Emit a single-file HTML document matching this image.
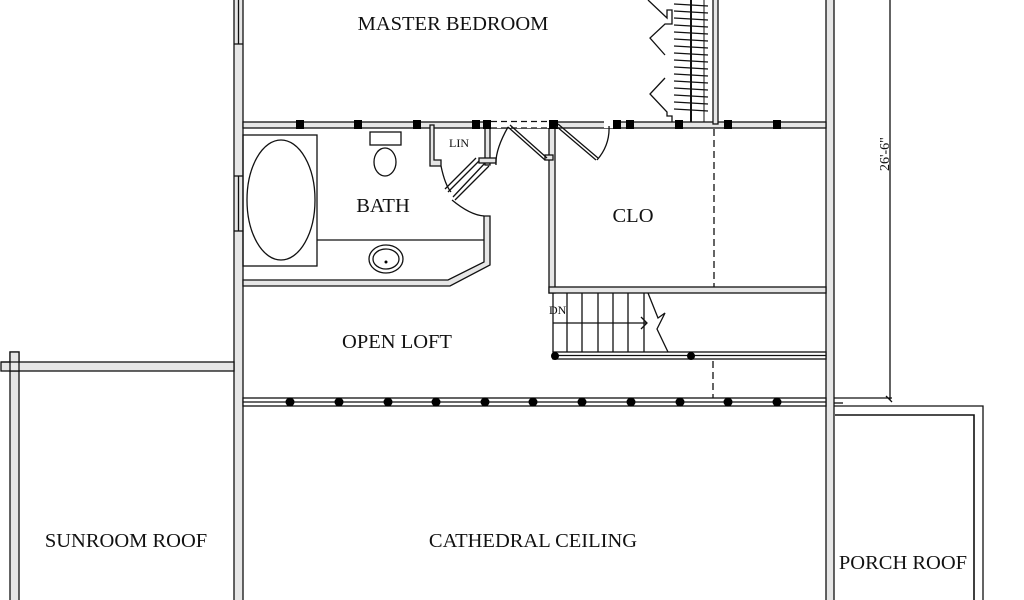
<!DOCTYPE html>
<html><head><meta charset="utf-8"><style>
html,body{margin:0;padding:0;background:#fff;}
svg{display:block;}
text{font-family:"Liberation Serif",serif;fill:#111;}
</style></head><body>
<svg width="1024" height="600" viewBox="0 0 1024 600" xmlns="http://www.w3.org/2000/svg">
<g fill="#e6e6e6" stroke="#111" stroke-width="1.3">
<rect x="234" y="-2" width="9" height="604"/>
<rect x="826" y="-2" width="8" height="604"/>
<rect x="243" y="122" width="583" height="6"/>
<rect x="10" y="352" width="9" height="250"/>
<rect x="1" y="362" width="233" height="9"/>
<rect x="10" y="352" width="9" height="19"/>
<path d="M243 280 L448 280 L484 262 L484 216 L490 216 L490 265 L450 286 L243 286 Z"/>
<path d="M430 125 L434 125 L434 160 L441 160 L441 166 L430 166 Z"/>
<rect x="485" y="125" width="5" height="40"/>
<rect x="479" y="158" width="17" height="5"/>
<rect x="549" y="125" width="6" height="168"/>
<rect x="545" y="155" width="8" height="5"/>
<rect x="549" y="287" width="277" height="6"/>
<rect x="713" y="-2" width="5" height="126"/>
</g>
<g stroke="#111" stroke-width="1.3">
<line x1="238.5" y1="0" x2="238.5" y2="44"/>
<line x1="238.5" y1="176" x2="238.5" y2="231"/>
<line x1="234" y1="44" x2="243" y2="44"/>
<line x1="234" y1="176" x2="243" y2="176"/>
<line x1="234" y1="231" x2="243" y2="231"/>
<line x1="1" y1="362" x2="19" y2="362"/>
</g>
<g fill="#000">
<rect x="296" y="120" width="8" height="9"/>
<rect x="354" y="120" width="8" height="9"/>
<rect x="413" y="120" width="8" height="9"/>
<rect x="472" y="120" width="8" height="9"/>
<rect x="483" y="120" width="8" height="9"/>
<rect x="549" y="120" width="9" height="9"/>
<rect x="613" y="120" width="8" height="9"/>
<rect x="626" y="120" width="8" height="9"/>
<rect x="675" y="120" width="8" height="9"/>
<rect x="724" y="120" width="8" height="9"/>
<rect x="773" y="120" width="8" height="9"/>
</g>
<g stroke="#111" stroke-width="1.3" fill="none">
<rect x="491" y="121" width="58" height="7" fill="#fff" stroke="none"/>
<line x1="491" y1="121.5" x2="549" y2="121.5" stroke-dasharray="6,4"/>
<line x1="491" y1="128" x2="549" y2="128" stroke-dasharray="6,4"/>
<rect x="604" y="121" width="9" height="7" fill="#fff" stroke="none"/>
<path d="M508 127 L545 160 M510 125 L547 158"/>
<path d="M508 127 Q495 150 496 165"/>
<path d="M556 126 L596 160 M558 124 L598 158"/>
<path d="M597 160 Q610 145 609 126"/>
<path d="M485 163 L453 197 M489 166 L455 200"/>
<path d="M452 200 Q470 215 484 216"/>
<path d="M479 161 L448 192 M476 158 L445 189"/>
<path d="M441 166 Q445 185 451 192"/>
<rect x="243" y="135" width="74" height="131"/>
<ellipse cx="281" cy="200" rx="34" ry="60"/>
<line x1="317" y1="240" x2="484" y2="240"/>
<rect x="370" y="132" width="31" height="13"/>
<ellipse cx="385" cy="162" rx="11" ry="14"/>
<ellipse cx="386" cy="259" rx="17" ry="14"/>
<ellipse cx="386" cy="259" rx="13" ry="10"/>
<path d="M648 0 L667 18 L667 10 L672 10 L672 24 L665 24 L650 38 L665 55"/>
<path d="M665 78 L650 94 L667 112 L667 116 L672 116 L672 122"/>
<line x1="691" y1="0" x2="691" y2="122" stroke-width="2"/>
<line x1="704" y1="0" x2="704" y2="122" stroke-width="1"/>
</g>
<g stroke="#111" stroke-width="1.2">
<line x1="674" y1="4" x2="708" y2="6"/><line x1="674" y1="11" x2="708" y2="13"/>
<line x1="674" y1="18" x2="708" y2="20"/><line x1="674" y1="25" x2="708" y2="27"/>
<line x1="674" y1="32" x2="708" y2="34"/><line x1="674" y1="39" x2="708" y2="41"/>
<line x1="674" y1="46" x2="708" y2="48"/><line x1="674" y1="53" x2="708" y2="55"/>
<line x1="674" y1="60" x2="708" y2="62"/><line x1="674" y1="67" x2="708" y2="69"/>
<line x1="674" y1="74" x2="708" y2="76"/><line x1="674" y1="81" x2="708" y2="83"/>
<line x1="674" y1="88" x2="708" y2="90"/><line x1="674" y1="95" x2="708" y2="97"/>
<line x1="674" y1="102" x2="708" y2="104"/><line x1="674" y1="109" x2="708" y2="111"/>
</g>
<g stroke="#111" stroke-width="1.3" stroke-dasharray="7,4">
<line x1="714" y1="129" x2="714" y2="287"/>
<line x1="713" y1="361" x2="713" y2="398"/>
</g>
<g stroke="#111" stroke-width="1.3" fill="none">
<line x1="553" y1="293" x2="553" y2="352"/>
<line x1="567" y1="293" x2="567" y2="352"/>
<line x1="582" y1="293" x2="582" y2="352"/>
<line x1="598" y1="293" x2="598" y2="352"/>
<line x1="613" y1="293" x2="613" y2="352"/>
<line x1="628" y1="293" x2="628" y2="352"/>
<line x1="644" y1="293" x2="644" y2="352"/>
<path d="M648 293 L658 318 L665 313 L657 329 L668 352"/>
<line x1="553" y1="323" x2="647" y2="323"/>
<path d="M641 317 L647 323 L641 329"/>
<rect x="553" y="352" width="273" height="7" fill="#fff"/>
<line x1="557" y1="355.5" x2="826" y2="355.5"/>
<rect x="243" y="398" width="583" height="8" fill="#fff"/>
<line x1="243" y1="402" x2="826" y2="402"/>
<path d="M834 406 L983 406 L983 602"/>
<path d="M835 415 L974 415 L974 602" stroke-width="1.6"/>
<line x1="890" y1="0" x2="890" y2="400"/>
<line x1="834" y1="398" x2="892" y2="398"/>
<path d="M886 396 L892 402"/>
<line x1="834" y1="403" x2="843" y2="403"/>
</g>
<g fill="#000">
<circle cx="555" cy="356" r="4"/><circle cx="691" cy="356" r="4"/>
<circle cx="290" cy="402" r="4.5"/><circle cx="339" cy="402" r="4.5"/>
<circle cx="388" cy="402" r="4.5"/><circle cx="436" cy="402" r="4.5"/>
<circle cx="485" cy="402" r="4.5"/><circle cx="533" cy="402" r="4.5"/>
<circle cx="582" cy="402" r="4.5"/><circle cx="631" cy="402" r="4.5"/>
<circle cx="680" cy="402" r="4.5"/><circle cx="728" cy="402" r="4.5"/>
<circle cx="777" cy="402" r="4.5"/>
<circle cx="386" cy="262" r="1.5"/>
</g>
<g font-size="20.5">
<text x="453" y="30" text-anchor="middle">MASTER BEDROOM</text>
<text x="383" y="212" text-anchor="middle">BATH</text>
<text x="633" y="222" text-anchor="middle">CLO</text>
<text x="397" y="348" text-anchor="middle">OPEN LOFT</text>
<text x="126" y="547" text-anchor="middle">SUNROOM ROOF</text>
<text x="533" y="547" text-anchor="middle">CATHEDRAL CEILING</text>
<text x="903" y="569" text-anchor="middle">PORCH ROOF</text>
</g>
<text x="459" y="147" font-size="12" text-anchor="middle">LIN</text>
<text x="549" y="314" font-size="12">DN</text>
<text x="0" y="0" font-size="14" transform="translate(889,171) rotate(-90)">26'-6"</text>
</svg>
</body></html>
